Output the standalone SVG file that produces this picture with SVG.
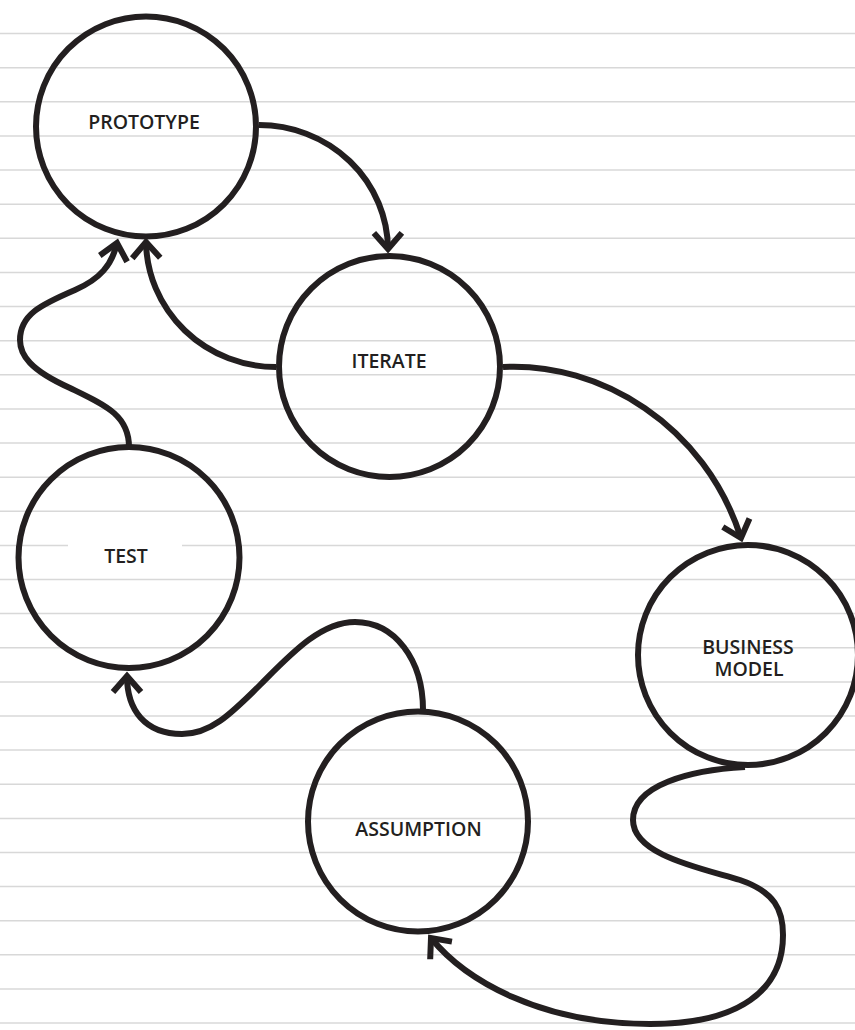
<svg xmlns="http://www.w3.org/2000/svg" width="855" height="1030" viewBox="0 0 855 1030">
<style>
.bg{stroke:#d8d8d8;stroke-width:1.5;fill:none}
.node{fill:none;stroke:#231f20;stroke-width:6}
.lbl{font-family:"Open Sans","Liberation Sans",sans-serif;font-weight:600;font-size:19.5px;fill:#231f20;text-anchor:middle}
.edge{fill:none;stroke:#231f20;stroke-width:6;marker-end:url(#arr)}
</style>
<defs>
<marker id="arr" markerUnits="userSpaceOnUse" markerWidth="40" markerHeight="40" refX="0" refY="0" orient="auto" overflow="visible">
<path d="M-16,-14 L0,0 L-16,14" fill="none" stroke="#231f20" stroke-width="6"/>
</marker>
</defs>
<rect width="855" height="1030" fill="#ffffff"/>
<g id="background">
<line class="bg" x1="0" y1="33.6" x2="855" y2="33.6"/>
<line class="bg" x1="0" y1="67.7" x2="855" y2="67.7"/>
<line class="bg" x1="0" y1="101.8" x2="855" y2="101.8"/>
<line class="bg" x1="0" y1="136" x2="855" y2="136"/>
<line class="bg" x1="0" y1="170.1" x2="855" y2="170.1"/>
<line class="bg" x1="0" y1="204.2" x2="855" y2="204.2"/>
<line class="bg" x1="0" y1="238.3" x2="855" y2="238.3"/>
<line class="bg" x1="0" y1="272.4" x2="855" y2="272.4"/>
<line class="bg" x1="0" y1="306.6" x2="855" y2="306.6"/>
<line class="bg" x1="0" y1="340.7" x2="855" y2="340.7"/>
<line class="bg" x1="0" y1="374.8" x2="855" y2="374.8"/>
<line class="bg" x1="0" y1="408.9" x2="855" y2="408.9"/>
<line class="bg" x1="0" y1="443" x2="855" y2="443"/>
<line class="bg" x1="0" y1="477.2" x2="855" y2="477.2"/>
<line class="bg" x1="0" y1="511.3" x2="855" y2="511.3"/>
<line class="bg" x1="0" y1="545.4" x2="68" y2="545.4"/>
<line class="bg" x1="182" y1="545.4" x2="855" y2="545.4"/>
<line class="bg" x1="0" y1="579.5" x2="855" y2="579.5"/>
<line class="bg" x1="0" y1="613.6" x2="855" y2="613.6"/>
<line class="bg" x1="0" y1="647.8" x2="855" y2="647.8"/>
<line class="bg" x1="0" y1="681.9" x2="855" y2="681.9"/>
<line class="bg" x1="0" y1="716" x2="855" y2="716"/>
<line class="bg" x1="0" y1="750.1" x2="855" y2="750.1"/>
<line class="bg" x1="0" y1="784.2" x2="855" y2="784.2"/>
<line class="bg" x1="0" y1="818.4" x2="855" y2="818.4"/>
<line class="bg" x1="0" y1="852.5" x2="855" y2="852.5"/>
<line class="bg" x1="0" y1="886.6" x2="855" y2="886.6"/>
<line class="bg" x1="0" y1="920.7" x2="855" y2="920.7"/>
<line class="bg" x1="0" y1="954.8" x2="855" y2="954.8"/>
<line class="bg" x1="0" y1="989" x2="855" y2="989"/>
<line class="bg" x1="0" y1="1023.1" x2="855" y2="1023.1"/>
</g>
<g id="connectors">
<path class="edge" d="M259,125 A129,125 0 0 1 388,249"/>
<path class="edge" d="M276,367 A130,127 0 0 1 146,242"/>
<path class="edge" d="M129,447 C129,415 105,405 70,388 C30,370 20,355 20,340 C20,315 40,305 75,290 C100,279 112,265 117,243"/>
<path class="edge" d="M503,367 C600,362 705,425 741,538"/>
<path class="edge" d="M745,767 C690,770 633,785 633,820 C633,855 700,868 740,880 C775,892 783,910 783,935 C783,990 740,1024 650,1024 C540,1024 465,980 431,938"/>
<path class="edge" d="M423,710 C423,660 395,622 355,622 C320,622 290,655 260,685 C230,715 210,734 182,734 C145,734 127,710 127,676"/>
</g>
<g id="prototype">
<circle class="node" cx="146" cy="126.5" r="110"/>
<text class="lbl" x="144" y="129">PROTOTYPE</text>
</g>
<g id="iterate">
<circle class="node" cx="389.5" cy="366.5" r="110.5"/>
<text class="lbl" x="389" y="368">ITERATE</text>
</g>
<g id="test">
<circle class="node" cx="129" cy="557.5" r="110.5"/>
<text class="lbl" x="126" y="563">TEST</text>
</g>
<g id="business-model">
<circle class="node" cx="748" cy="655" r="110"/>
<text class="lbl" x="748" y="654">BUSINESS</text>
<text class="lbl" x="749" y="676">MODEL</text>
</g>
<g id="assumption">
<circle class="node" cx="418" cy="821.5" r="110"/>
<text class="lbl" x="418.5" y="835.5">ASSUMPTION</text>
</g>
</svg>
